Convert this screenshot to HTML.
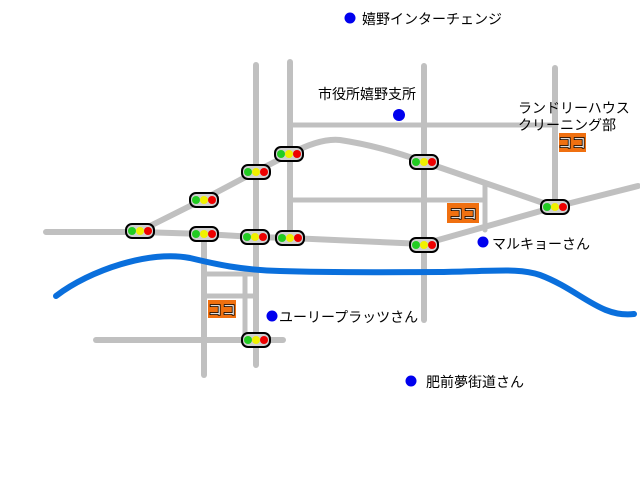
<!DOCTYPE html>
<html><head><meta charset="utf-8"><style>
html,body{margin:0;padding:0;background:#fff;width:640px;height:480px;overflow:hidden}
svg{display:block}
text{font-family:"Liberation Sans","Noto Sans CJK JP",sans-serif;font-size:14px;fill:#000}
.k{font-family:"Liberation Sans","Noto Sans CJK JP",sans-serif;font-size:14px;font-weight:bold;fill:#fff;stroke:#000;stroke-width:0.8}
</style></head><body>
<svg width="640" height="480" viewBox="0 0 640 480">
<g fill="none" stroke="#c0c0c0" stroke-width="6" stroke-linecap="round" stroke-linejoin="round">
<path d="M46,232 L140,232 L204,234 L255,237 L290,238 L424,244 L555,207 L638,186"/>
<path d="M140,231 L204,199 L255,172 L290,154 Q320,138 340,140 Q380,146 424,162 L555,207"/>
<path d="M256,65 L256,365"/>
<path d="M290,62 L290,238"/>
<path d="M424,66 L424,320"/>
<path d="M555,68 L555,207"/>
<path d="M290,125 L555,125" stroke-width="5"/>
<path d="M290,200 L485,200" stroke-width="5"/>
<path d="M485,183 L485,230" stroke-width="5"/>
<path d="M204,234 L204,375"/>
<path d="M204,274 L256,274" stroke-width="5"/>
<path d="M204,296 L256,296" stroke-width="5"/>
<path d="M245,274 L245,340" stroke-width="5"/>
<path d="M96,340 L283,340"/>
</g>
<path d="M56,296 C90,270 150,250 190,258 C215,264 240,270 280,271 C340,273 400,272 440,272 C500,271 520,268 540,275 C580,290 600,318 634,314" fill="none" stroke="#0a6fdc" stroke-width="6" stroke-linecap="round"/>
<g>
<defs>
<g id="s">
<rect x="-14" y="-7" width="28" height="14" rx="6" fill="#d0d0d0" stroke="#000" stroke-width="2"/>
<circle cx="-8" cy="0" r="4" fill="#22cc22"/>
<circle cx="0" cy="0" r="4" fill="#f0f000"/>
<circle cx="8" cy="0" r="4" fill="#ee0000"/>
</g>
</defs>
<use href="#s" x="140" y="231"/>
<use href="#s" x="204" y="234"/>
<use href="#s" x="255" y="237"/>
<use href="#s" x="290" y="238"/>
<use href="#s" x="204" y="200"/>
<use href="#s" x="256" y="172"/>
<use href="#s" x="289" y="154"/>
<use href="#s" x="424" y="162"/>
<use href="#s" x="424" y="245"/>
<use href="#s" x="555" y="207"/>
<use href="#s" x="256" y="340"/>
</g>
<g>
<rect x="447" y="203" width="32" height="20" fill="#f07010"/>
<text class="k" x="449" y="219">ココ</text>
<rect x="559" y="133" width="27" height="19" fill="#f07010"/>
<text class="k" x="558" y="148">ココ</text>
<rect x="208" y="300" width="28" height="18" fill="#f07010"/>
<text class="k" x="208" y="315">ココ</text>
</g>
<g fill="#0000ee">
<circle cx="350" cy="18" r="5.5"/>
<circle cx="399" cy="115" r="6"/>
<circle cx="483" cy="242" r="5.5"/>
<circle cx="272" cy="316" r="5.5"/>
<circle cx="411" cy="381" r="5.5"/>
</g>
<text x="362" y="24">嬉野インターチェンジ</text>
<text x="318" y="99">市役所嬉野支所</text>
<text x="518" y="113">ランドリーハウス</text>
<text x="518" y="130">クリーニング部</text>
<text x="492" y="249">マルキョーさん</text>
<text x="279" y="322">ユーリープラッツさん</text>
<text x="426" y="387">肥前夢街道さん</text>
</svg>
</body></html>
